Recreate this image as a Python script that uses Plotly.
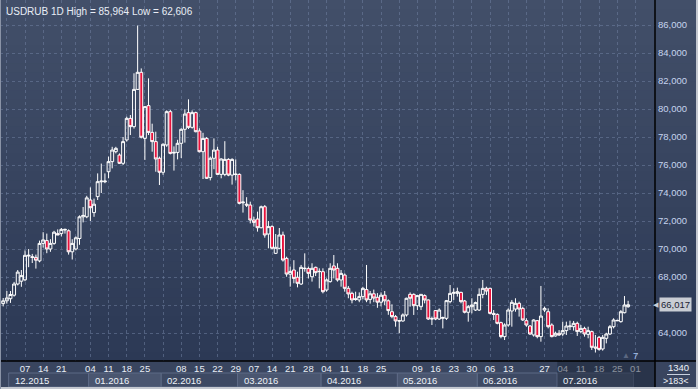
import pandas as pd
import plotly.graph_objects as go

# ---------------- data ----------------
symbol = "USDRUB"
timeframe = "1D"
first_day = "2015-11-27"
closed_days = ["2015-12-25", "2016-01-01"]

opens = [66.1, 66.3, 66.45, 66.7, 67.5, 67.7, 67.8, 69.5, 69.45, 69.4,
         69.15, 70.4, 70.6, 70.0, 70.4, 71.1, 71.1, 71.35, 71.3, 69.8,
         70.0, 70.75, 72.3, 72.3, 73.5, 72.6, 73.74, 74.8, 74.8, 75.52,
         76.24, 76.95, 76.71, 76.12, 77.79, 79.33, 78.74, 81.4, 82.62, 77.9,
         80.24, 78.33, 77.67, 76.48, 75.48, 77.43, 79.81, 76.85, 76.9, 77.55,
         78.55, 79.74, 78.69, 79.74, 78.43, 76.95, 77.9, 75.1, 76.48, 77.07,
         75.33, 75.33, 76.4, 75.28, 75.35, 75.33, 73.3, 73.2, 73.14, 72.07,
         72.14, 71.52, 73.02, 71.07, 71.6, 69.69, 70.05, 71.0, 69.33, 68.2,
         68.5, 67.98, 67.5, 68.6, 68.6, 68.02, 68.69, 68.38, 68.38, 67.07,
         67.67, 68.79, 68.62, 67.79, 68.14, 67.19, 66.83, 66.45, 66.36, 66.6,
         67.1, 66.4, 66.8, 66.55, 66.2, 66.7, 66.3, 65.52, 65.17, 64.88,
         64.86, 65.29, 66.76, 66.76, 65.95, 65.88, 66.67, 66.36, 65.0, 65.6,
         65.0, 65.05, 65.05, 66.24, 66.83, 66.83, 66.9, 66.29, 65.48, 65.88,
         65.64, 65.64, 66.76, 67.19, 67.19, 65.4, 65.33, 64.74, 63.74, 64.57,
         65.57, 65.71, 66.12, 65.76, 64.88, 64.5, 63.86, 64.88, 63.74, 65.64,
         65.52, 64.57, 63.79, 63.98, 63.93, 64.17, 64.45, 64.45, 64.69, 64.1,
         64.33, 63.9, 64.1, 63.0, 63.69, 62.86, 63.62, 63.93, 64.45, 64.9,
         64.81, 65.45, 65.88]
highs = [66.5, 67.0, 67.0, 67.65, 68.5, 68.5, 69.9, 70.0, 69.65, 69.6,
         70.6, 71.2, 71.1, 70.7, 71.3, 71.4, 71.5, 71.45, 71.4, 70.7,
         70.9, 72.4, 73.0, 73.8, 74.4, 73.6, 75.4, 76.1, 75.4, 76.6,
         77.3, 77.3, 76.83, 78.0, 79.45, 79.57, 82.55, 85.964, 82.9, 80.2,
         82.19, 78.95, 78.38, 76.6, 77.55, 79.9, 79.93, 77.33, 77.8, 78.62,
         79.98, 80.69, 79.9, 79.81, 78.62, 78.3, 78.0, 76.6, 77.9, 77.3,
         76.48, 77.7, 76.48, 76.48, 76.4, 75.4, 74.2, 73.7, 73.38, 72.3,
         72.67, 73.1, 73.14, 72.0, 71.7, 71.07, 71.5, 71.24, 69.45, 68.74,
         69.2, 68.38, 68.86, 69.69, 68.74, 68.98, 68.74, 68.62, 68.62, 67.9,
         68.98, 69.57, 68.98, 68.5, 68.26, 67.36, 66.95, 66.95, 66.9, 67.3,
         68.86, 67.0, 67.1, 66.85, 66.9, 67.0, 66.4, 66.05, 65.29, 64.93,
         65.4, 66.52, 66.9, 66.83, 66.71, 66.76, 66.76, 66.4, 65.17, 65.64,
         65.76, 65.17, 66.36, 67.43, 67.19, 67.24, 66.95, 66.36, 66.0, 66.48,
         66.24, 67.19, 67.79, 67.31, 67.24, 65.64, 65.4, 64.81, 64.69, 65.76,
         66.36, 66.48, 66.24, 65.88, 65.05, 64.57, 64.98, 64.93, 67.36, 65.88,
         65.76, 64.69, 64.1, 64.21, 64.81, 64.81, 64.88, 64.86, 64.81, 64.57,
         64.45, 64.45, 64.17, 63.86, 63.79, 63.86, 64.02, 64.57, 65.05, 64.95,
         65.64, 66.64, 66.3]
lows = [65.9, 66.1, 66.15, 66.6, 67.4, 67.3, 67.7, 68.7, 69.0, 68.6,
        69.05, 70.1, 69.7, 69.8, 70.3, 71.0, 70.9, 71.1, 69.6, 69.25,
        69.9, 70.3, 71.9, 72.2, 72.0, 72.3, 73.5, 74.0, 74.7, 75.05,
        75.76, 76.83, 76.07, 76.0, 77.67, 78.14, 78.6, 81.36, 77.9, 76.36,
        78.14, 76.95, 75.52, 74.57, 75.3, 77.3, 76.76, 75.6, 76.4, 76.5,
        77.6, 78.57, 78.6, 78.33, 76.9, 75.0, 75.0, 74.9, 75.7, 75.3,
        75.05, 75.2, 75.2, 74.6, 74.9, 73.19, 72.6, 73.0, 71.83, 71.6,
        71.24, 71.48, 70.81, 70.05, 69.98, 69.64, 69.98, 69.1, 68.02, 67.31,
        67.55, 67.26, 67.43, 68.38, 67.9, 67.67, 68.07, 67.19, 66.83, 66.95,
        67.6, 67.9, 67.67, 67.31, 66.95, 66.48, 66.12, 66.3, 66.2, 66.4,
        66.2, 66.1, 66.2, 65.8, 65.9, 66.0, 65.3, 65.05, 64.45, 63.98,
        64.81, 65.17, 65.88, 65.29, 65.64, 65.64, 66.12, 64.93, 64.57, 64.93,
        64.93, 64.33, 64.93, 66.12, 66.36, 66.6, 66.12, 65.4, 64.81, 65.4,
        65.57, 65.57, 66.48, 66.71, 65.33, 64.93, 64.62, 63.62, 63.5, 64.45,
        64.45, 65.52, 65.17, 64.86, 64.45, 63.86, 63.74, 63.62, 63.38, 65.5,
        64.33, 63.69, 63.74, 63.79, 63.79, 63.86, 64.21, 64.17, 63.79, 63.98,
        63.74, 63.62, 62.79, 62.606, 62.74, 62.74, 63.26, 63.86, 64.33, 64.85,
        64.74, 65.4, 65.8]
closes = [66.3, 66.5, 66.75, 67.5, 68.35, 68.1, 69.55, 69.55, 69.4, 69.2,
          70.4, 70.65, 70.0, 70.4, 71.2, 71.0, 71.4, 71.4, 69.8, 70.4,
          70.8, 72.3, 72.4, 73.65, 72.95, 73.2, 74.81, 74.85, 74.85, 76.24,
          77.07, 77.19, 76.12, 77.67, 79.33, 78.74, 81.4, 82.62, 77.98, 80.17,
          78.33, 77.67, 76.43, 75.48, 77.48, 79.81, 76.83, 76.9, 77.55, 78.55,
          79.64, 78.69, 79.74, 78.38, 76.95, 77.9, 75.05, 76.48, 77.07, 75.33,
          76.43, 76.4, 75.28, 76.4, 75.33, 73.26, 73.35, 73.14, 72.07, 71.9,
          71.52, 73.02, 71.0, 71.6, 70.05, 70.12, 71.0, 69.21, 68.21, 68.4,
          67.9, 67.55, 68.69, 68.62, 68.26, 68.62, 68.31, 68.4, 66.95, 67.79,
          68.62, 68.5, 67.79, 68.26, 67.19, 66.79, 66.36, 66.4, 66.6, 67.19,
          66.36, 66.8, 66.5, 66.2, 66.7, 66.3, 65.6, 65.17, 64.86, 64.86,
          65.29, 66.48, 66.48, 65.95, 66.67, 66.76, 66.36, 65.0, 65.02, 65.0,
          65.64, 65.1, 66.31, 66.83, 66.9, 66.95, 66.24, 65.48, 65.88, 66.0,
          66.17, 66.76, 67.19, 67.0, 65.4, 65.33, 64.69, 63.74, 64.57, 65.64,
          66.19, 66.12, 65.71, 64.93, 64.57, 63.93, 64.93, 63.74, 65.21, 65.76,
          64.45, 63.74, 63.98, 63.86, 64.17, 64.5, 64.5, 64.69, 64.1, 64.33,
          63.93, 64.17, 62.98, 62.93, 62.83, 63.69, 63.93, 64.45, 64.93, 64.88,
          65.52, 66.0, 66.017]

price_ticks = [64, 66, 68, 70, 72, 74, 76, 78, 80, 82, 84, 86]
labeled_mondays = ["2015-12-07", "2015-12-14", "2015-12-21", "2016-01-04",
                   "2016-01-11", "2016-01-18", "2016-01-25", "2016-02-08",
                   "2016-02-15", "2016-02-22", "2016-02-29", "2016-03-07",
                   "2016-03-14", "2016-03-21", "2016-03-28", "2016-04-04",
                   "2016-04-11", "2016-04-18", "2016-04-25", "2016-05-09",
                   "2016-05-16", "2016-05-23", "2016-05-30", "2016-06-06",
                   "2016-06-13", "2016-06-27", "2016-07-04", "2016-07-11",
                   "2016-07-18", "2016-07-25", "2016-08-01"]
months = ["2015-12", "2016-01", "2016-02", "2016-03", "2016-04",
          "2016-05", "2016-06", "2016-07", "2016-08"]
bars_info = "1340"
zoom_info = "&gt;183&lt;"
scroll_info = "7"

# ---------------- calendar / positions ----------------
cal = pd.bdate_range(first_day, "2016-08-31")
cal = cal[~cal.isin(pd.to_datetime(closed_days))]
cal_str = [d.strftime("%Y-%m-%d") for d in cal]
pos = {d: i for i, d in enumerate(cal_str)}
n = len(opens)
xs = list(range(n))
hover_dates = cal_str[:n]

mondays = [d for d in cal_str if pd.Timestamp(d).weekday() == 0
           and "2015-11-30" <= d <= "2016-08-01"]
tickvals = [pos[d] for d in mondays]
ticktext = [d[-2:] if d in labeled_mondays else "" for d in mondays]

month_start = [cal_str.index(next(d for d in cal_str if d.startswith(m))) for m in months]

def fmt(v):
    return f"{v:.3f}".replace(".", ",")

# price ticks hidden where the current-price marker covers them
price_ticktext = ["" if abs(v - closes[-1]) < 0.8 else fmt(v) for v in price_ticks]

# ---------------- layout geometry (pixels) ----------------
W, H = 698, 389
ML, MR, MT, MB = 0, 43, 0, 28
PW, PH = W - ML - MR, H - MT - MB
X_RANGE = [-0.88, 179.4]
Y_RANGE = [62.0, 87.786]

def py(p):  # pixel y -> paper y
    return (PH - p) / PH

def px(p):  # pixel x -> paper x
    return p / PW

shapes = []
# gradient background (plot + right axis)
NS = 40
top_c, bot_c = (66, 79, 105), (44, 57, 85)
for k in range(NS):
    t = (k + 0.5) / NS
    c = tuple(round(bot_c[j] + (top_c[j] - bot_c[j]) * t) for j in range(3))
    shapes.append(dict(type="rect", xref="paper", yref="paper",
                       x0=px(-2), x1=px(W + 2), y0=k / NS, y1=(k + 1) / NS + 0.002,
                       fillcolor=f"rgb{c}", line=dict(width=0), layer="below"))
# bottom axis band
shapes.append(dict(type="rect", xref="paper", yref="paper", x0=px(-2), x1=px(W + 2),
                   y0=py(H + 2), y1=0, fillcolor="#39455f", line=dict(width=0), layer="below"))
# month boxes
for k in range(len(months) - 1):
    x0 = month_start[k] - 0.5
    x1 = month_start[k + 1] - 0.5
    shapes.append(dict(type="rect", xref="x", yref="paper", x0=x0, x1=x1,
                       y0=py(387), y1=py(373),
                       fillcolor="#3d4963" if k % 2 == 0 else "#4a5670",
                       line=dict(color="#5d6a86", width=1), layer="below"))
# darker overlay on the latest part of the time axis
shapes.append(dict(type="rect", xref="x", yref="paper", x0=month_start[7] - 0.5, x1=X_RANGE[1],
                   y0=py(388), y1=0, fillcolor="rgba(22,30,48,0.45)", line=dict(width=0)))
# black frame lines
shapes.append(dict(type="line", xref="paper", yref="paper", x0=0, x1=px(W), y0=0, y1=0,
                   line=dict(color="#000000", width=1.5)))
shapes.append(dict(type="line", xref="paper", yref="paper", x0=1, x1=1, y0=py(H), y1=1,
                   line=dict(color="#000000", width=1.5)))
# outer light border
shapes.append(dict(type="line", xref="paper", yref="paper", x0=px(W - 1), x1=px(W - 1),
                   y0=py(H), y1=1, line=dict(color="#c4c8d0", width=2)))
shapes.append(dict(type="line", xref="paper", yref="paper", x0=0, x1=px(W), y0=py(H - 1),
                   y1=py(H - 1), line=dict(color="#c4c8d0", width=2)))
shapes.append(dict(type="line", xref="paper", yref="paper", x0=px(0.5), x1=px(0.5),
                   y0=py(H), y1=1, line=dict(color="#8a93a6", width=1)))
# separator in bar-count box
shapes.append(dict(type="line", xref="paper", yref="paper", x0=px(667), x1=px(690),
                   y0=py(374.5), y1=py(374.5), line=dict(color="#c8d0de", width=1)))

annotations = []
annotations.append(dict(xref="paper", yref="paper", x=px(4), y=py(4), xanchor="left",
                        yanchor="top", showarrow=False,
                        text=f"{symbol} {timeframe} High = {fmt(max(highs))} Low = {fmt(min(lows))}",
                        font=dict(size=10, color="#e8edf5")))
for k in range(len(months) - 1):
    m = months[k]
    annotations.append(dict(xref="x", yref="paper", x=month_start[k] - 0.5, y=py(380.5),
                            xanchor="left", yanchor="middle", xshift=4, showarrow=False,
                            text=f"{m[5:7]}.{m[:4]}", font=dict(size=9.5, color="#eef2f8")))
annotations.append(dict(xref="paper", yref="y", x=1, y=closes[-1], xanchor="right",
                        yanchor="middle", xshift=6, showarrow=False, text="◀",
                        font=dict(size=7, color="#c9cdd4")))
annotations.append(dict(xref="paper", yref="y", x=1, y=closes[-1], xanchor="left",
                        yanchor="middle", xshift=4, showarrow=False, text=fmt(closes[-1]),
                        bgcolor="#c9cdd4", borderpad=1, font=dict(size=9.5, color="#1c2433")))
annotations.append(dict(xref="paper", yref="paper", x=px(678), y=py(367.5), showarrow=False,
                        xanchor="center", yanchor="middle",
                        text=bars_info, font=dict(size=9.5, color="#eef2f8")))
annotations.append(dict(xref="paper", yref="paper", x=px(676), y=py(381), showarrow=False,
                        xanchor="center", yanchor="middle",
                        text=zoom_info, font=dict(size=9, color="#eef2f8")))
annotations.append(dict(xref="paper", yref="paper", x=px(626), y=py(355.5), showarrow=False,
                        xanchor="center", yanchor="middle",
                        text="▲", font=dict(size=8, color="#5b6781")))
annotations.append(dict(xref="paper", yref="paper", x=px(635), y=py(355), showarrow=False,
                        xanchor="center", yanchor="middle",
                        text=scroll_info, font=dict(size=9.5, color="#a9c5f0")))

fig = go.Figure(go.Candlestick(
    x=xs, open=opens, high=highs, low=lows, close=closes,
    text=hover_dates, hoverinfo="text+y",
    increasing=dict(line=dict(color="#ffffff", width=1), fillcolor="rgba(0,0,0,0)"),
    decreasing=dict(line=dict(color="#ffffff", width=1), fillcolor="#e8123c"),
    whiskerwidth=0,
))

fig.update_layout(
    width=W, height=H, autosize=False,
    margin=dict(l=ML, r=MR, t=MT, b=MB, pad=0),
    paper_bgcolor="#36435e", plot_bgcolor="rgba(0,0,0,0)",
    font=dict(family="Liberation Sans, Arial, sans-serif", size=9.5, color="#e8edf5"),
    separators=", ",
    showlegend=False,
    boxgap=0.2, boxgroupgap=0,
    shapes=shapes, annotations=annotations,
    xaxis=dict(range=X_RANGE, rangeslider=dict(visible=False), tickmode="array",
               tickvals=tickvals, ticktext=ticktext, showgrid=True,
               gridcolor="rgba(112,128,160,0.55)", griddash="3px,3px", gridwidth=1,
               zeroline=False, showline=False, ticks="",
               tickfont=dict(size=9.5, color="#e8edf5")),
    yaxis=dict(range=Y_RANGE, side="right", tickmode="array", tickvals=price_ticks,
               ticktext=price_ticktext, showgrid=True,
               gridcolor="rgba(112,128,160,0.55)", griddash="3px,3px", gridwidth=1,
               zeroline=False, showline=False, ticks="", ticklabelstandoff=2,
               tickfont=dict(size=9.5, color="#c6d4ee")),
)

fig.write_html(
    "out.html",
    config={"displayModeBar": False},
    post_script="document.body.style.margin='0';document.body.style.overflow='hidden';",
)
